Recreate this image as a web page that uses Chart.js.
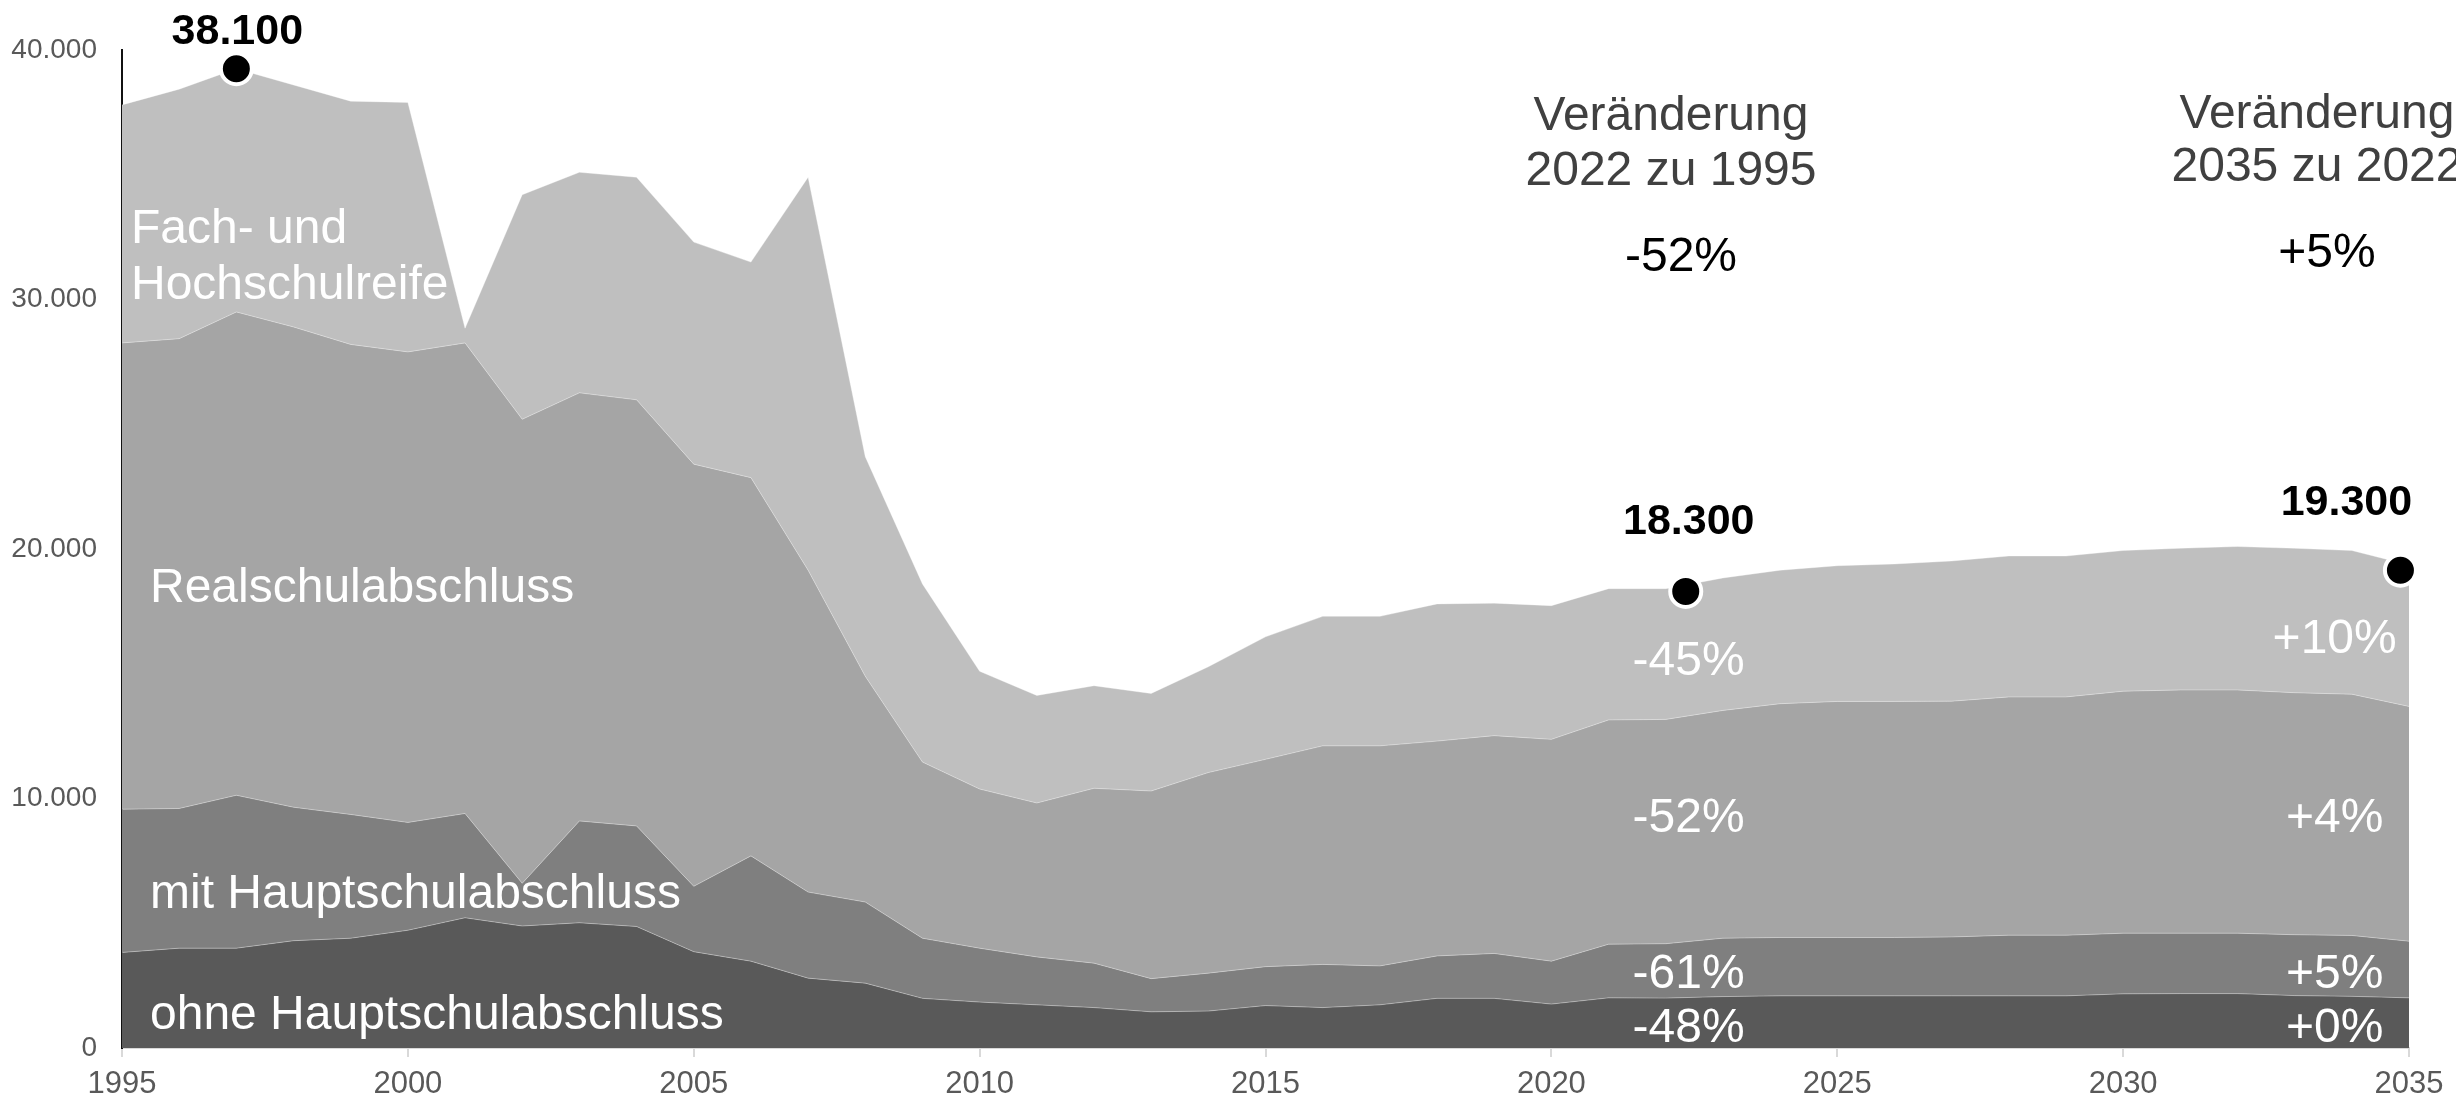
<!DOCTYPE html>
<html lang="de">
<head>
<meta charset="utf-8">
<title>Schulabgänger nach Abschlussart 1995–2035</title>
<script src="https://cdn.jsdelivr.net/npm/chart.js@4.4.1/dist/chart.umd.min.js"></script>
<style>
  html, body { margin: 0; padding: 0; background: #fff; }
  #wrap { position: relative; width: 2456px; height: 1100px; }
</style>
</head>
<body>
<div id="wrap"><canvas id="chart"></canvas></div>
<script>
// Jahre (Ist bis 2022, danach Vorausberechnung)
const years = [1995, 1996, 1997, 1998, 1999, 2000, 2001, 2002, 2003, 2004,
  2005, 2006, 2007, 2008, 2009, 2010, 2011, 2012, 2013, 2014,
  2015, 2016, 2017, 2018, 2019, 2020, 2021, 2022, 2023, 2024,
  2025, 2026, 2027, 2028, 2029, 2030, 2031, 2032, 2033, 2034, 2035];

// Absolventen je Abschlussart (Personen), von unten nach oben gestapelt
const ohneHauptschul = [3830, 4000, 4000, 4300, 4400, 4720, 5220, 4890, 5020, 4870,
  3860, 3480, 2800, 2600, 1990, 1840, 1730, 1620, 1450, 1480,
  1700, 1620, 1730, 1990, 1990, 1760, 2010, 2000, 2060, 2090,
  2090, 2090, 2090, 2090, 2090, 2170, 2180, 2180, 2100, 2070, 2010];
const mitHauptschul = [5740, 5600, 6130, 5350, 4960, 4320, 4180, 1710, 4080, 4030,
  2620, 4220, 3450, 3250, 2410, 2160, 1920, 1780, 1330, 1520,
  1560, 1730, 1560, 1700, 1800, 1720, 2150, 2180, 2340, 2340,
  2340, 2340, 2360, 2430, 2430, 2430, 2420, 2420, 2440, 2440, 2270];
const realschul = [18690, 18830, 19370, 19250, 18840, 18860, 18860, 18600, 17160, 17080,
  16920, 15160, 12900, 9050, 7060, 6380, 6170, 7010, 7520, 8040,
  8310, 8760, 8820, 8610, 8730, 8890, 8990, 8990, 9130, 9370,
  9460, 9460, 9450, 9550, 9550, 9700, 9750, 9750, 9700, 9670, 9410];
const fachHochschul = [9540, 10000, 9750, 9700, 9750, 10000, 590, 9000, 8840, 8920,
  8900, 8640, 15750, 8800, 7140, 4720, 4310, 4110, 3910, 4240,
  4910, 5190, 5190, 5500, 5310, 5360, 5260, 5240, 5310, 5350,
  5440, 5510, 5620, 5650, 5650, 5640, 5680, 5750, 5790, 5760, 5670];

const seriesNames = ['ohne Hauptschulabschluss', 'mit Hauptschulabschluss', 'Realschulabschluss', 'Fach- und Hochschulreife'];
const seriesLines = [['ohne Hauptschulabschluss'], ['mit Hauptschulabschluss'], ['Realschulabschluss'], ['Fach- und', 'Hochschulreife']];
const seriesColors = ['#595959', '#7f7f7f', '#a5a5a5', '#bfbfbf'];

// Markierte Summenwerte
const markerYears = [1997, 2022.35, 2034.85];
const markerValues = [39250, 18300, 19150];
const markerLabels = ['38.100', '18.300', '19.300'];

// Veränderungen je Abschlussart (unten nach oben)
const changeHeads = [['Veränderung', '2022 zu 1995'], ['Veränderung', '2035 zu 2022']];
const changeTotal = ['-52%', '+5%'];
const change1995to2022 = ['-48%', '-61%', '-52%', '-45%'];
const change2022to2035 = ['+0%', '+5%', '+4%', '+10%'];

// Achsenbeschriftungen
const xTicks = [1995, 2000, 2005, 2010, 2015, 2020, 2025, 2030, 2035];
const xTickLabels = ['1995', '2000', '2005', '2010', '2015', '2020', '2025', '2030', '2035'];
const yTicks = [0, 10000, 20000, 30000, 40000];
const yTickLabels = ['0', '10.000', '20.000', '30.000', '40.000'];

const FONT = '"Liberation Sans", Arial, sans-serif';
const layers = [ohneHauptschul, mitHauptschul, realschul, fachHochschul];

const datasets = layers.map((vals, i) => ({
  label: seriesNames[i],
  data: vals,
  backgroundColor: seriesColors[i],
  borderColor: 'rgba(255,255,255,0.35)',
  borderWidth: 1,
  pointRadius: 0,
  tension: 0,
  fill: i === 0 ? 'origin' : '-1'
}));

datasets.push({
  label: 'Summe',
  data: markerYears.map((yr, i) => ({ x: yr, y: markerValues[i] })),
  stack: 'markers',
  showLine: false,
  pointRadius: 15.5,
  pointBackgroundColor: '#000',
  pointBorderColor: '#fff',
  pointBorderWidth: 4,
  fill: false,
  clip: false,
  order: -1
});

// Beschriftungen direkt ins Diagramm
const annotations = {
  id: 'annotations',
  afterDraw(chart) {
    const { ctx, scales: { x, y } } = chart;
    ctx.save();
    ctx.textBaseline = 'middle';

    // Reihennamen (weiß, links)
    ctx.fillStyle = '#fff';
    ctx.textAlign = 'left';
    ctx.font = '48px ' + FONT;
    const seriesPos = [[150, 1016], [150, 895], [150, 589], [131, 230]];
    seriesLines.forEach((lines, i) => {
      lines.forEach((t, j) => ctx.fillText(t, seriesPos[i][0], seriesPos[i][1] + j * 56));
    });

    // Prozentwerte in den Flächen
    ctx.textAlign = 'center';
    const leftX = x.getPixelForValue(2022.4);
    const rightX = x.getPixelForValue(2033.7);
    const leftY = [760, 2930, 9200, 15500];
    const rightY = [760, 2930, 9200, 16350];
    change1995to2022.forEach((t, i) => ctx.fillText(t, leftX, y.getPixelForValue(leftY[i])));
    change2022to2035.forEach((t, i) => ctx.fillText(t, rightX, y.getPixelForValue(rightY[i])));

    // Überschriften der Veränderungsspalten
    const headX = [1671, 2317];
    const headY = [[117, 172], [115, 168]];
    ctx.fillStyle = '#404040';
    changeHeads.forEach((lines, i) => {
      lines.forEach((t, j) => ctx.fillText(t, headX[i], headY[i][j]));
    });
    ctx.fillStyle = '#000';
    const totX = [1681, 2327];
    const totY = [258, 254];
    changeTotal.forEach((t, i) => ctx.fillText(t, totX[i], totY[i]));

    // Werte über den Punkten
    const meta = chart.getDatasetMeta(4);
    const offs = [[1, -37], [3, -69], [-54, -67]];
    ctx.font = 'bold 43px ' + FONT;
    meta.data.forEach((pt, i) => {
      ctx.fillText(markerLabels[i], pt.x + offs[i][0], pt.y + offs[i][1]);
    });
    ctx.restore();
  }
};

new Chart(document.getElementById('chart'), {
  type: 'line',
  data: { labels: years, datasets: datasets },
  options: {
    responsive: true,
    maintainAspectRatio: false,
    animation: false,
    devicePixelRatio: 1,
    layout: { padding: { left: 0, right: 47, top: 50, bottom: 0 } },
    plugins: { legend: { display: false }, tooltip: { enabled: false } },
    scales: {
      x: {
        type: 'linear',
        min: 1995,
        max: 2035,
        z: 1,
        afterBuildTicks: s => { s.ticks = xTicks.map(v => ({ value: v })); },
        afterFit: s => { s.height = 52; },
        ticks: {
          callback: v => xTickLabels[xTicks.indexOf(v)],
          font: { family: FONT, size: 31 },
          color: '#595959',
          padding: 9,
          maxRotation: 0
        },
        grid: { drawOnChartArea: false, drawTicks: true, tickLength: 9, color: '#d9d9d9', lineWidth: 2 },
        border: { display: true, color: '#d9d9d9', width: 2 }
      },
      y: {
        stacked: true,
        min: 0,
        max: 40000,
        z: 1,
        afterBuildTicks: s => { s.ticks = yTicks.map(v => ({ value: v })); },
        afterFit: s => { s.width = 122; },
        ticks: {
          callback: v => yTickLabels[yTicks.indexOf(v)],
          font: { family: FONT, size: 28 },
          color: '#595959',
          padding: 25
        },
        grid: { display: false, drawTicks: false },
        border: { display: true, color: '#111', width: 2 }
      }
    }
  },
  plugins: [annotations]
});
</script>
</body>
</html>
